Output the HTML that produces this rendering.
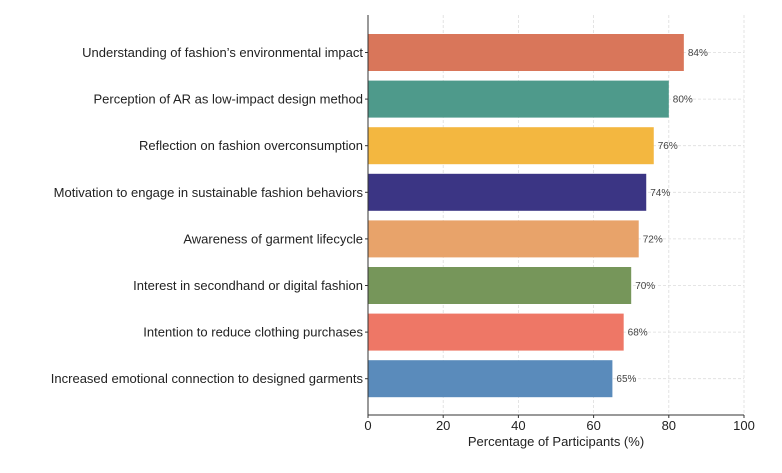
<!DOCTYPE html>
<html><head><meta charset="utf-8"><style>
body{margin:0;background:#fff;font-family:"Liberation Sans","DejaVu Sans",sans-serif}
</style></head><body>
<svg id="chart" width="782" height="468" xmlns="http://www.w3.org/2000/svg"></svg>
<script>
const categories=["Understanding of fashion’s environmental impact","Perception of AR as low-impact design method","Reflection on fashion overconsumption","Motivation to engage in sustainable fashion behaviors","Awareness of garment lifecycle","Interest in secondhand or digital fashion","Intention to reduce clothing purchases","Increased emotional connection to designed garments"];
const values=[84,80,76,74,72,70,68,65];
const colors=["#D9765A","#4E9A8B","#F3B740","#3B3584","#E8A36A","#76965A","#EE7766","#5A8BBB"];
const ticks=[0,20,40,60,80,100];
const NS="http://www.w3.org/2000/svg";
const svg=document.getElementById('chart');
const x0=368,x1=744,yTop=15,yBot=415,firstC=52.5,step=46.6,bh=37;
const xs=v=>x0+(v/100)*(x1-x0);
const yc=i=>firstC+i*step;
function el(t,a){const e=document.createElementNS(NS,t);for(const k in a)e.setAttribute(k,a[k]);svg.appendChild(e);return e;}
ticks.forEach(t=>{
 const g=el('line',{x1:xs(t),x2:xs(t),y1:yTop,y2:yBot,stroke:'#ddd','stroke-width':0.8,'stroke-dasharray':'3,2'});
 
 
});
categories.forEach((c,i)=>{
 const g=el('line',{x1:x0,x2:x1,y1:yc(i),y2:yc(i),stroke:'#ddd','stroke-width':0.8,'stroke-dasharray':'3,2'});
 
 
});
categories.forEach((c,i)=>{
 const r=el('rect',{x:x0,y:yc(i)-bh/2,width:xs(values[i])-x0,height:bh,fill:colors[i]});
 
 
 const v=el('text',{x:xs(values[i])+4,y:yc(i)+3.5,'font-size':10,fill:'#444'});
 v.textContent=values[i]+'%';
 
 
 const l=el('text',{x:x0-5,y:yc(i)+4.5,'font-size':13,fill:'#222','text-anchor':'end'});
 l.textContent=c;
 
 
 const tk=el('line',{x1:x0-3,x2:x0,y1:yc(i),y2:yc(i),stroke:'#333'});
 
 
});
ticks.forEach(t=>{
 const tk=el('line',{x1:xs(t),x2:xs(t),y1:yBot,y2:yBot+3,stroke:'#333'});
 
 
 const l=el('text',{x:xs(t),y:yBot+15,'font-size':13,fill:'#222','text-anchor':'middle'});
 l.textContent=t;
 
 
});
const ax=el('line',{x1:x0,x2:x0,y1:yTop,y2:yBot,stroke:'#333','stroke-width':1});


const bx=el('line',{x1:x0,x2:x1,y1:yBot,y2:yBot,stroke:'#333','stroke-width':1});


const tt=el('text',{x:(x0+x1)/2,y:446,'font-size':13,fill:'#222','text-anchor':'middle'});
tt.textContent='Percentage of Participants (%)';


</script>
</body></html>
